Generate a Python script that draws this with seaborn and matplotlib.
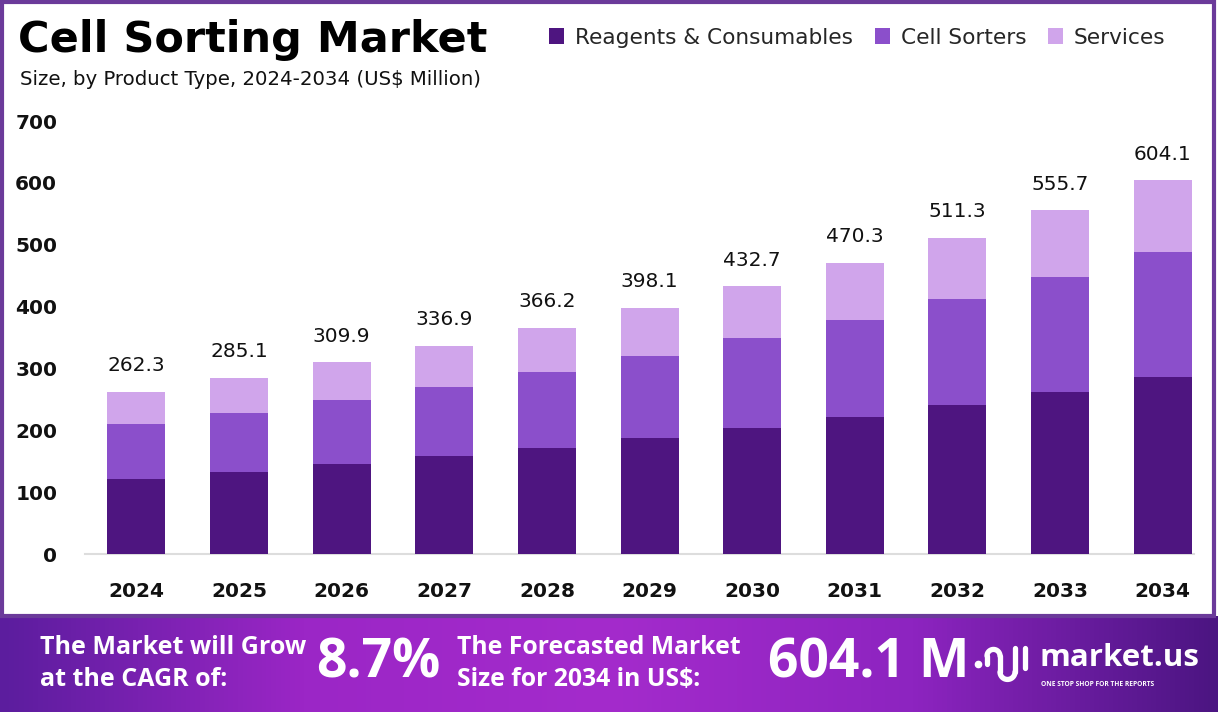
import matplotlib.pyplot as plt
import numpy as np
import pandas as pd
import seaborn as sns
from matplotlib.colors import LinearSegmentedColormap
from matplotlib.patches import Patch, Rectangle


YEARS = ["2024", "2025", "2026", "2027", "2028", "2029", "2030", "2031", "2032", "2033", "2034"]
REAGENTS = [121, 132, 145, 159, 172, 188, 204, 221, 241, 262, 286]
CELL_SORTERS = [89, 96, 104, 111, 122, 132, 145, 157, 171, 186, 202]
SERVICES = [52.3, 57.1, 60.9, 66.9, 72.2, 78.1, 83.7, 92.3, 99.3, 107.7, 116.1]
TOTALS = [262.3, 285.1, 309.9, 336.9, 366.2, 398.1, 432.7, 470.3, 511.3, 555.7, 604.1]

SEGMENTS = ["Reagents & Consumables", "Cell Sorters", "Services"]
COLORS = ["#4e1580", "#8b4fcb", "#d0a5eb"]
Y_TICKS = [0, 100, 200, 300, 400, 500, 600, 700]

CAGR_TEXT = "8.7%"
FORECAST_TEXT = "604.1 M"


def draw_logo(ax):
    """
    Rough sketch of the market.us mark, in banner pixel coordinates.
    """
    kw = dict(color="white", lw=3.8, solid_capstyle="round")
    t = np.linspace(0, np.pi, 30)
    # arch
    ax.plot([987, 987], [48, 56], **kw)
    ax.plot(993.5 - 6.5 * np.cos(t), 56 + 6.5 * np.sin(t), **kw)
    ax.plot([1000, 1000], [56, 40], **kw)
    # cup
    ax.plot(1007.5 - 7.5 * np.cos(t), 40 - 7.5 * np.sin(t), **kw)
    ax.plot([1015, 1015], [40, 64], **kw)
    # bar and dot
    ax.plot([1025, 1025], [44, 64], **kw)
    ax.plot([978], [48], "o", color="white", ms=4.5)


def main():
    df = pd.DataFrame({
        "year": YEARS,
        "reagents": REAGENTS,
        "cell_sorters": CELL_SORTERS,
        "services": SERVICES,
    })
    # stacked bars: draw cumulative heights back to front
    df["lvl3"] = df["reagents"] + df["cell_sorters"] + df["services"]
    df["lvl2"] = df["reagents"] + df["cell_sorters"]
    df["lvl1"] = df["reagents"]

    sns.set_style("white")
    plt.rcParams["font.family"] = ["DejaVu Sans"]

    fig = plt.figure(figsize=(12.18, 7.12), dpi=100)
    ax = fig.add_axes([0.0698, 0.2219, 0.927, 0.6081])

    for col, color in zip(["lvl3", "lvl2", "lvl1"], COLORS[::-1]):
        sns.barplot(data=df, x="year", y=col, color=color, width=0.565,
                    saturation=1, linewidth=0, edgecolor="none", ax=ax, zorder=3)

    top_bars = ax.containers[0]
    ax.bar_label(top_bars, labels=[f"{v:.1f}" for v in TOTALS], padding=12,
                 fontsize=14.5, color="#111111")

    ax.set_ylim(0, 700)
    ax.set_xlim(-0.5, 10.5)
    ax.set_yticks(Y_TICKS)
    ax.set_xlabel("")
    ax.set_ylabel("")
    ax.tick_params(axis="y", length=0, pad=20, labelsize=14.5)
    ax.tick_params(axis="x", length=0, pad=20, labelsize=14.5)
    for lbl in ax.get_xticklabels() + ax.get_yticklabels():
        lbl.set_fontweight("bold")
        lbl.set_color("#111111")
    sns.despine(ax=ax, left=True)
    ax.spines["bottom"].set_color("#dddddd")
    ax.spines["bottom"].set_linewidth(1.5)
    ax.spines["bottom"].set_bounds(-0.5, 10.3)

    # title block
    fig.text(0.0148, 0.927, "Cell Sorting Market", fontsize=31, fontweight="bold",
             color="black", va="baseline")
    fig.text(0.0165, 0.880, "Size, by Product Type, 2024-2034 (US$ Million)",
             fontsize=14.2, color="#111111", va="baseline")

    handles = [Patch(facecolor=c, edgecolor="none") for c in COLORS]
    fig.legend(handles, SEGMENTS, loc="center left", bbox_to_anchor=(0.435, 0.947),
               ncol=3, frameon=False, fontsize=15.6, handlelength=0.7,
               handleheight=0.8, handletextpad=0.5, columnspacing=1.0)

    # purple frame around the chart
    fig.patches.append(Rectangle((0.002, 0.135), 0.995, 0.862, transform=fig.transFigure,
                                 fill=False, edgecolor="#6b3a9a", linewidth=3))

    # bottom banner, in pixel units
    banner = fig.add_axes([0, 0, 1, 0.135])
    cmap = LinearSegmentedColormap.from_list(
        "banner", ["#5c1d9e", "#9b26c6", "#a42bcc", "#8d24c0", "#4b1582"])
    banner.imshow(np.linspace(0, 1, 256)[None, :], aspect="auto", cmap=cmap,
                  extent=(0, 1218, 0, 96))
    banner.set_xlim(0, 1218)
    banner.set_ylim(0, 96)
    banner.set_axis_off()

    white = dict(color="white", fontweight="bold", family="Open Sans")
    banner.text(40, 64, "The Market will Grow", fontsize=18, va="center", **white)
    banner.text(40, 32, "at the CAGR of:", fontsize=18, va="center", **white)
    banner.text(316, 48, CAGR_TEXT, fontsize=38.5, va="center", **white)
    banner.text(457, 64, "The Forecasted Market", fontsize=17.8, va="center", **white)
    banner.text(457, 32, "Size for 2034 in US$:", fontsize=17.8, va="center", **white)
    banner.text(768, 48, FORECAST_TEXT, fontsize=38.5, va="center", **white)
    banner.text(1040, 54, "market.us", fontsize=22.5, va="center", **white)
    banner.text(1041, 27, "ONE STOP SHOP FOR THE REPORTS", fontsize=4.8,
                va="center", **white)
    draw_logo(banner)

    fig.savefig("out.png", dpi=100)
    plt.close(fig)


if __name__ == "__main__":
    main()
